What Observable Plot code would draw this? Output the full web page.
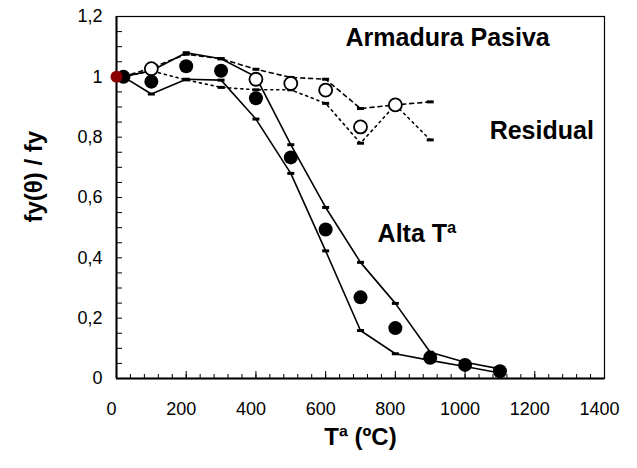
<!DOCTYPE html>
<html><head><meta charset="utf-8">
<script src="https://cdn.jsdelivr.net/npm/d3@7"></script>
<script src="https://cdn.jsdelivr.net/npm/@observablehq/plot@0.6"></script>
<style>body{margin:0;background:#fff;}</style>
</head><body><div id="chart"></div>
<script>
// ---- data ----
const tempAlta  = [20, 100, 200, 300, 400, 500, 600, 700, 800, 900, 1000, 1100];
const altaMean  = [1.0, 0.984, 1.035, 1.020, 0.929, 0.733, 0.494, 0.269, 0.167, 0.069, 0.045, 0.024];
const altaUpper = [1.0, 1.02, 1.08, 1.06, 1.0, 0.775, 0.567, 0.385, 0.249, 0.087, 0.054, 0.032];
const altaLower = [1.0, 0.943, 0.992, 0.989, 0.86, 0.68, 0.423, 0.159, 0.082, 0.06, 0.04, 0.018];
const tempRes   = [20, 100, 200, 300, 400, 500, 600, 700, 800, 900];
const resUpper  = [1.0, 1.03, 1.075, 1.06, 1.025, 0.998, 0.992, 0.895, 0.907, 0.917];
const resLower  = [1.0, 1.02, 0.99, 0.965, 0.957, 0.957, 0.912, 0.78, 0.907, 0.791];
const tempResMean = [100, 400, 500, 600, 700, 800];
const resMean     = [1.027, 0.992, 0.978, 0.956, 0.834, 0.907];
const refTemp = [0];
const refValue = [1.0];
const xTickValues = [0, 200, 400, 600, 800, 1000, 1200, 1400];
const yTickValues = [0, 0.2, 0.4, 0.6, 0.8, 1, 1.2];
const annotations = [
  {text: "Armadura Pasiva", x: 950, y: 1.13},
  {text: "Residual", x: 1220, y: 0.82},
  {text: "Alta Tª", x: 862, y: 0.48}
];
const xLabel = "Tª (ºC)";
const yLabel = "fy(θ) / fy";

// ---- build ----
const zip = (xs, ys) => xs.map((x, i) => ({x, y: ys[i]}));
const W = 637, H = 468, mL = 116, mR = 33, mT = 16, mB = 90;
const iw = W - mL - mR, ih = H - mT - mB;
const xMinor = d3.range(0, 1401, 40);
const yMinor = d3.range(0, 24).map(i => i * 0.05);
const dashSym = {draw(ctx) { ctx.rect(-3.5, -1.5, 7, 3); }};
const fmtY = d => String(d).replace(".", ",");

const altaU = zip(tempAlta, altaUpper), altaL = zip(tempAlta, altaLower);
const resU = zip(tempRes, resUpper), resL = zip(tempRes, resLower);

const chart = Plot.plot({
  width: W, height: H,
  marginLeft: mL, marginRight: mR, marginTop: mT, marginBottom: mB,
  style: {fontFamily: "Arial, 'Liberation Sans', sans-serif", fontSize: "18px", color: "#000", background: "#fff"},
  x: {domain: [0, 1400]},
  y: {domain: [0, 1.2]},
  marks: [
    Plot.axisX(xTickValues, {tickSize: 0, tickPadding: 24, dx: -5, tickFormat: d => String(d), label: null, fontSize: 18}),
    Plot.axisY(yTickValues, {tickSize: 0, tickPadding: 14, tickFormat: fmtY, label: null, fontSize: 18}),
    Plot.tickX(xMinor, {x: d => d, insetTop: ih - 4, stroke: "#000"}),
    Plot.tickX(xTickValues, {x: d => d, insetTop: ih - 7, stroke: "#000"}),
    Plot.tickY(yMinor, {y: d => d, insetRight: iw - 6, stroke: "#000"}),
    Plot.frame({stroke: "#000", strokeWidth: 1.2}),
    Plot.ruleX([0], {stroke: "#000", strokeWidth: 2}),
    Plot.ruleY([0], {stroke: "#000", strokeWidth: 2}),
    // residual envelope
    Plot.line(resU, {x: "x", y: "y", stroke: "#000", strokeWidth: 1.6, strokeDasharray: "4,4"}),
    Plot.line(resL, {x: "x", y: "y", stroke: "#000", strokeWidth: 1.6, strokeDasharray: "2,4"}),
    Plot.dot(resU.slice(1), {x: "x", y: "y", symbol: dashSym, fill: "#000", stroke: "none"}),
    Plot.dot(resL.slice(1), {x: "x", y: "y", symbol: dashSym, fill: "#000", stroke: "none"}),
    // high temperature envelope
    Plot.line(altaU, {x: "x", y: "y", stroke: "#000", strokeWidth: 1.6}),
    Plot.line(altaL, {x: "x", y: "y", stroke: "#000", strokeWidth: 1.6}),
    Plot.dot(altaU.slice(1), {x: "x", y: "y", symbol: dashSym, fill: "#000", stroke: "none"}),
    Plot.dot(altaL.slice(1), {x: "x", y: "y", symbol: dashSym, fill: "#000", stroke: "none"}),
    // points
    Plot.dot(zip(tempResMean, resMean), {x: "x", y: "y", r: 6.5, fill: "#fff", stroke: "#000", strokeWidth: 1.8}),
    Plot.dot(zip(tempAlta, altaMean), {x: "x", y: "y", r: 7, fill: "#000", stroke: "none"}),
    Plot.dot(zip(refTemp, refValue), {x: "x", y: "y", r: 6, fill: "#8b0000", stroke: "none"}),
    // annotations
    Plot.text(annotations, {x: "x", y: "y", text: "text", fontSize: 25, fontWeight: "bold", fill: "#000"}),
    Plot.text([xLabel], {frameAnchor: "bottom", dy: 66, fontSize: 24, fontWeight: "bold", fill: "#000"}),
    Plot.text([yLabel], {frameAnchor: "left", dx: -82, dy: 25, rotate: -90, fontSize: 24, fontWeight: "bold", fill: "#000"})
  ]
});
document.getElementById("chart").appendChild(chart);
</script>
</body></html>
